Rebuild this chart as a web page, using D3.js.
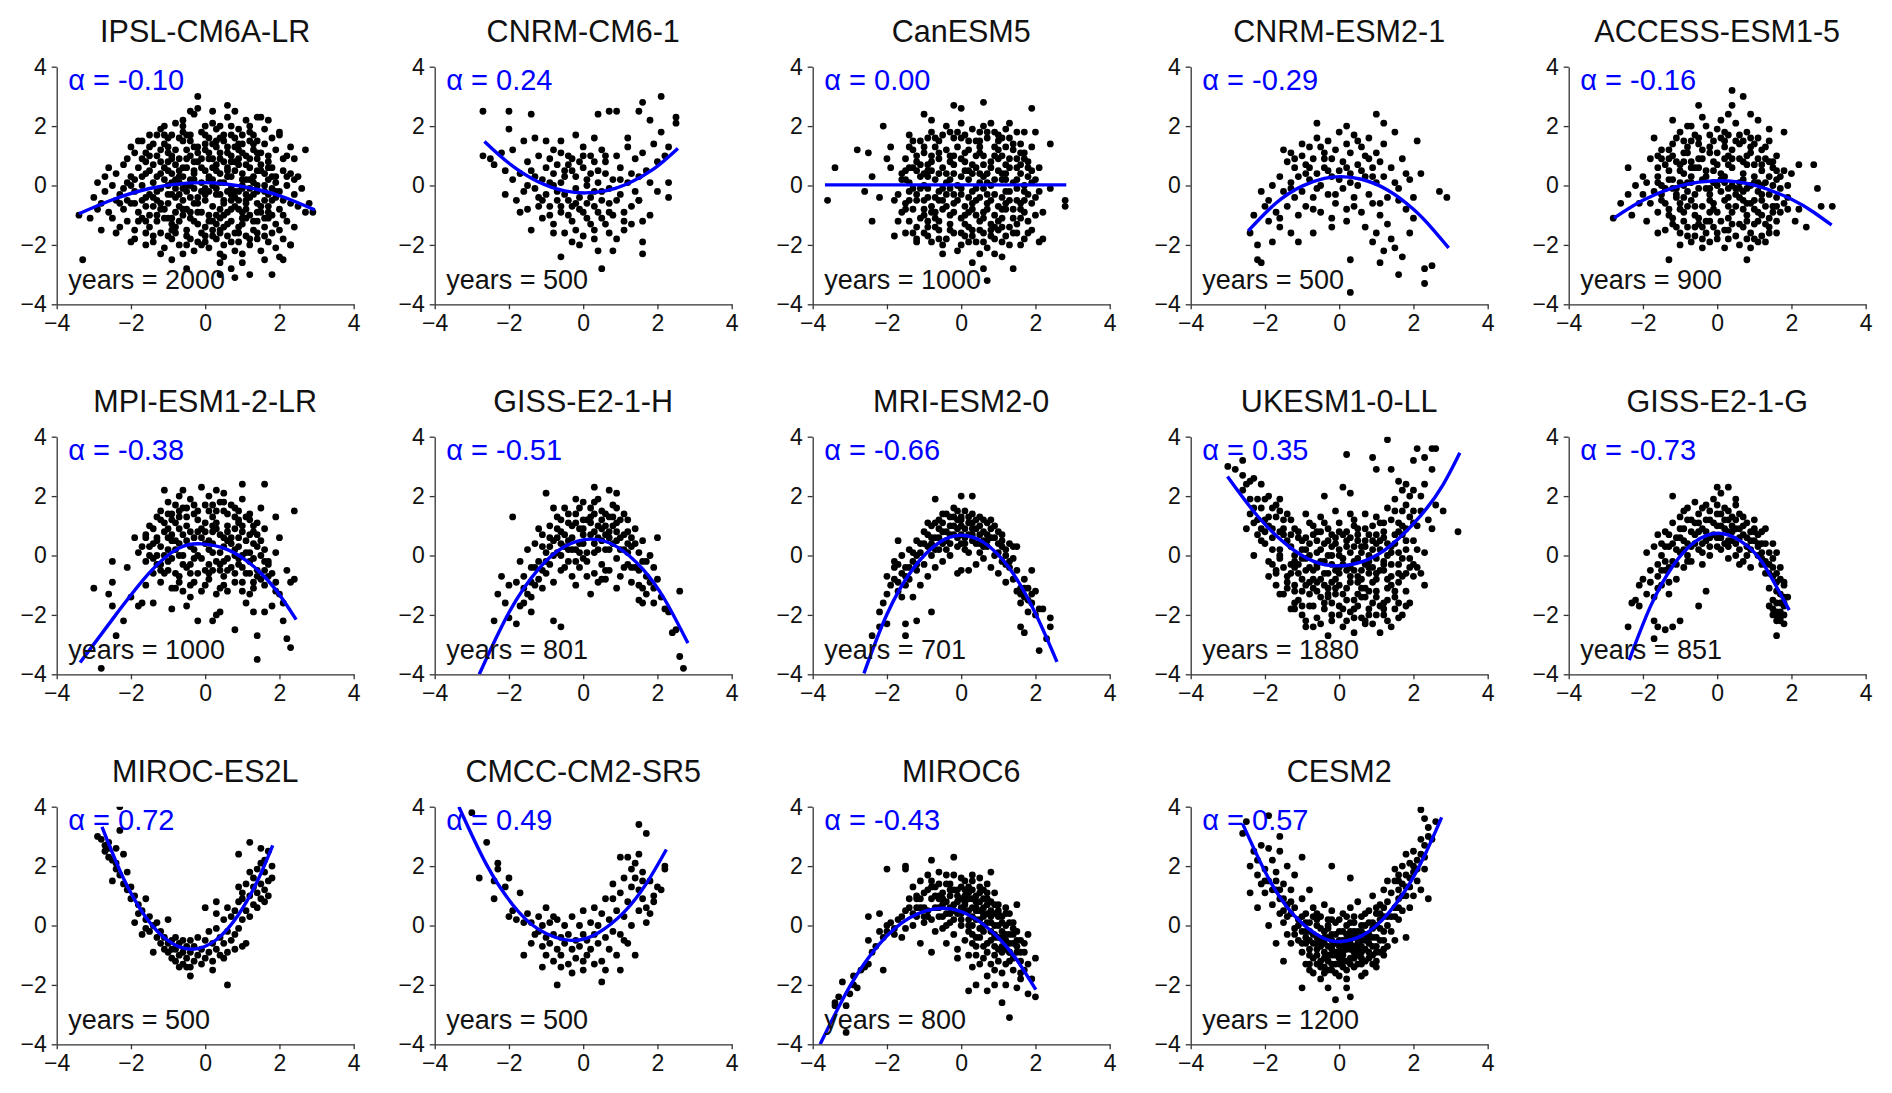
<!DOCTYPE html>
<html>
<head>
<meta charset="utf-8">
<script src="https://cdn.jsdelivr.net/npm/d3@7"></script>
<style>
  body { margin: 0; background: #fff; }
  svg { display: block; font-family: 'Liberation Sans', Arial, sans-serif; }
</style>
</head>
<body>
<svg id="chart" width="1892" height="1093"></svg>
<script>
const models = ['IPSL-CM6A-LR', 'CNRM-CM6-1', 'CanESM5', 'CNRM-ESM2-1', 'ACCESS-ESM1-5',
  'MPI-ESM1-2-LR', 'GISS-E2-1-H', 'MRI-ESM2-0', 'UKESM1-0-LL', 'GISS-E2-1-G',
  'MIROC-ES2L', 'CMCC-CM2-SR5', 'MIROC6', 'CESM2']
const alphas = ['-0.10', '0.24', '0.00', '-0.29', '-0.16', '-0.38', '-0.51', '-0.66', '0.35', '-0.73', '0.72', '0.49', '-0.43', '0.57']
const years = [2000, 500, 1000, 500, 900, 1000, 801, 701, 1880, 851, 500, 500, 800, 1200]
const ticks = [-4, -2, 0, 2, 4]

// blue fit lines ("x,y x,y ...")
const fitCurves = [
  '-3.4,-0.95 -2.5,-0.48 -1.5,-0.1 -0.5,0.08 0.5,0.06 1.5,-0.16 2.2,-0.43 2.95,-0.82',
  '-2.66,1.48 -2.0,0.75 -1.2,0.12 -0.5,-0.18 0.05,-0.25 0.6,-0.18 1.2,0.06 1.9,0.56 2.55,1.25',
  '-3.67,0.02 -1.0,0.02 1.0,0.02 2.83,0.02',
  '-2.45,-1.53 -1.7,-0.59 -1.0,-0.02 -0.4,0.24 0.05,0.3 0.6,0.21 1.3,-0.15 2.0,-0.8 2.5,-1.44 2.95,-2.1',
  '-2.78,-1.1 -2.0,-0.5 -1.0,-0.01 0.03,0.16 1.0,0.01 2.0,-0.46 2.6,-0.9 3.08,-1.33',
  '-3.37,-3.6 -2.5,-2.15 -1.5,-0.58 -0.7,0.25 -0.1,0.39 0.6,0.2 1.3,-0.36 1.9,-1.15 2.45,-2.16',
  '-2.8,-4.0 -2.0,-1.92 -1.2,-0.45 -0.5,0.3 0.2,0.55 0.9,0.3 1.6,-0.45 2.2,-1.49 2.82,-2.95',
  '-2.62,-3.97 -2.0,-1.98 -1.3,-0.45 -0.6,0.43 0.0,0.68 0.6,0.44 1.3,-0.43 2.0,-1.95 2.58,-3.58',
  '-3.01,2.66 -2.2,1.33 -1.4,0.35 -0.7,-0.19 -0.02,-0.35 0.7,-0.17 1.4,0.35 2.2,1.35 2.8,2.39 3.25,3.46',
  '-2.37,-3.52 -1.8,-1.72 -1.2,-0.36 -0.6,0.46 0.03,0.75 0.6,0.51 1.1,-0.04 1.5,-0.83 1.94,-1.84',
  '-2.78,3.32 -2.2,1.58 -1.6,0.28 -1.0,-0.51 -0.36,-0.8 0.3,-0.48 0.9,0.37 1.4,1.48 1.82,2.7',
  '-3.35,4.0 -2.6,2.04 -1.9,0.7 -1.2,-0.13 -0.33,-0.5 0.4,-0.25 1.1,0.45 1.7,1.41 2.24,2.56',
  '-3.8,-4.0 -3.0,-2.05 -2.2,-0.62 -1.4,0.25 -0.52,0.58 0.3,0.29 1.0,-0.41 1.5,-1.16 2.01,-2.16',
  '-2.6,3.42 -1.9,1.58 -1.2,0.32 -0.5,-0.38 0.02,-0.54 0.6,-0.35 1.2,0.24 1.8,1.22 2.3,2.36 2.76,3.64'
]

// scatter clouds ("x,y x,y ...")
const ptsIPSL = `-1.2,1.9 -0.8,2.1 -0.5,1.7 -0.3,2.4 -0.1,1.8 0.2,2.1 0.4,1.6 0.6,2.3 0.9,1.9 1.1,2.2 1.3,1.7 1.5,2.3 1.6,1.9 -1.0,1.6 0.0,2.0 0.7,1.7 1.8,1.6 -0.6,2.0 0.3,1.9 1.2,2.0 -1.5,1.7 0.8,2.5 -0.2,2.6 2.0,1.8 2.0,1.7
-1.9,1.1 -1.7,0.9 -1.5,1.3 -1.3,1.0 -1.1,1.4 -0.9,0.9 -0.8,1.2 -0.6,1.5 -0.4,1.0 -0.3,1.3 -0.1,0.9 0.0,1.4 0.1,1.1 0.3,1.3 0.4,0.9 0.5,1.5 0.6,1.1 0.8,1.3 0.9,0.9 1.0,1.4 1.1,1.0 1.3,1.2 1.4,0.9 1.6,1.4 1.7,1.0 1.9,1.2 2.1,0.9 -2.1,0.9 -1.2,1.2 -0.5,1.2 0.2,1.4 0.7,1.0 1.2,1.5 -1.6,1.1 -0.2,1.1 1.5,1.1 -1.0,1.1 0.9,1.2 -2.0,1.3 2.2,1.0
-2.4,0.4 -2.2,0.7 -2.0,0.3 -1.8,0.6 -1.6,0.4 -1.4,0.7 -1.3,0.3 -1.1,0.6 -0.9,0.4 -0.8,0.7 -0.6,0.3 -0.5,0.6 -0.3,0.4 -0.2,0.8 0.0,0.5 0.1,0.3 0.3,0.7 0.4,0.4 0.6,0.6 0.7,0.3 0.9,0.7 1.0,0.4 1.2,0.6 1.3,0.3 1.5,0.7 1.6,0.4 1.8,0.6 1.9,0.3 2.1,0.5 2.3,0.4 -1.9,0.2 -1.0,0.8 -0.4,0.2 0.5,0.8 1.1,0.2 1.7,0.8 2.4,0.2 -2.6,0.6 -0.7,0.5 0.2,0.6 0.8,0.5 1.4,0.5
-2.9,0.1 -2.7,-0.2 -2.5,0.0 -2.3,-0.3 -2.1,0.1 -1.9,-0.2 -1.7,0.0 -1.5,-0.3 -1.4,0.1 -1.2,-0.1 -1.0,0.0 -0.9,-0.3 -0.7,0.1 -0.5,-0.2 -0.4,0.0 -0.2,-0.4 -0.1,0.1 0.1,-0.2 0.2,0.0 0.4,-0.3 0.5,0.1 0.7,-0.1 0.8,-0.4 1.0,0.0 1.1,-0.3 1.3,0.1 1.4,-0.2 1.6,0.0 1.7,-0.3 1.9,0.1 2.0,-0.2 2.2,0.0 2.4,-0.3 2.6,-0.1 -1.6,-0.4 -0.8,-0.1 0.0,-0.1 0.6,-0.2 1.2,-0.1 1.8,-0.1 -2.2,-0.1 -0.3,0.2
-2.8,-0.6 -2.6,-0.9 -2.4,-0.5 -2.2,-0.8 -2.0,-0.6 -1.8,-0.9 -1.6,-0.7 -1.5,-1.0 -1.3,-0.5 -1.1,-0.8 -1.0,-0.6 -0.8,-0.9 -0.6,-0.5 -0.5,-0.8 -0.3,-0.6 -0.1,-0.9 0.0,-0.5 0.2,-0.7 0.3,-1.0 0.5,-0.6 0.6,-0.9 0.8,-0.7 0.9,-0.5 1.1,-0.8 1.2,-1.0 1.4,-0.6 1.5,-0.9 1.7,-0.7 1.8,-0.5 2.0,-0.8 2.1,-1.0 2.3,-0.6 2.5,-0.7 2.7,-0.9 -1.4,-0.7 -0.4,-0.9 0.4,-0.8 1.0,-0.9 1.6,-0.5 -2.1,-0.5 -0.7,-0.7 0.7,-0.5
-2.5,-1.1 -2.3,-1.4 -2.1,-1.2 -1.9,-1.5 -1.7,-1.1 -1.5,-1.4 -1.3,-1.2 -1.2,-1.6 -1.0,-1.1 -0.8,-1.4 -0.7,-1.2 -0.5,-1.5 -0.4,-1.1 -0.2,-1.3 -0.1,-1.6 0.1,-1.2 0.2,-1.5 0.4,-1.1 0.5,-1.4 0.7,-1.2 0.8,-1.6 1.0,-1.3 1.1,-1.1 1.3,-1.5 1.4,-1.2 1.6,-1.4 1.7,-1.1 1.9,-1.3 2.0,-1.5 2.2,-1.2 2.4,-1.4 -2.8,-1.5 -0.9,-1.3 0.0,-1.4 0.9,-1.4 1.8,-1.6 -1.6,-1.6 0.3,-1.3
-1.9,-1.8 -1.6,-2.0 -1.4,-1.7 -1.1,-2.1 -0.9,-1.8 -0.7,-2.0 -0.5,-1.7 -0.3,-2.2 -0.2,-1.9 0.0,-1.7 0.1,-2.1 0.3,-1.8 0.5,-2.0 0.6,-1.7 0.8,-2.2 0.9,-1.9 1.1,-1.7 1.2,-2.0 1.4,-1.8 1.5,-2.2 1.7,-1.9 1.9,-2.1 2.1,-1.8 2.3,-2.0 -1.2,-2.3 0.4,-2.3 1.0,-2.3 -0.6,-2.3
-3.3,-2.5 -3.4,-1.0 -3.1,-1.1 -3.0,-0.4 -2.9,-0.8 -2.7,0.3 -2.4,-1.6 -2.0,-1.9 -1.7,1.5 -1.3,1.7 -1.1,2.0 -0.9,-2.5 -0.5,-2.8 -0.4,2.5 -0.2,3.0 0.2,2.5 0.4,-2.6 0.4,-3.0 0.6,2.7 0.7,-2.8 0.8,-3.1 1.0,-2.6 1.2,-3.0 1.4,2.3 1.6,-2.5 1.8,-3.0 1.7,2.2 2.0,-2.4 2.1,-2.5 2.3,1.3 2.3,-2.0 2.5,0.3 2.7,1.2 2.9,-0.9 2.8,-0.6 2.4,0.9 -1.8,1.5 -0.6,2.2
-1.4,1.4 -1.0,1.3 -0.7,1.6 -0.4,1.7 0.1,1.6 0.5,1.7 0.8,1.6 1.2,1.8 -1.2,0.8 -0.7,0.9 -0.2,1.3 0.2,0.9 0.6,1.3 1.0,1.1 1.4,1.1 -1.5,0.5 -1.0,0.5 -0.6,0.6 -0.1,0.6 0.3,0.5 0.7,0.8 1.1,0.7 1.5,0.5 -1.3,-0.2 -0.8,0.2 -0.3,-0.1 0.1,0.2 0.6,0.3 0.9,-0.2 1.3,-0.3 1.7,0.2 -1.7,-0.5 -1.2,-0.6 -0.8,-0.4 -0.2,-0.6 0.3,-0.3 0.7,-0.8 1.1,-0.5 1.5,-0.7 1.9,-0.4 -1.8,-1.2 -1.3,-1.0 -0.9,-1.1 -0.3,-1.2 0.1,-1.0 0.6,-1.3 1.0,-1.1 1.4,-0.9 1.8,-1.0 -1.4,-1.9 -0.8,-1.6 -0.4,-1.8 0.2,-1.7 0.7,-1.9 1.2,-1.8 1.6,-1.7 -0.1,-2.0 0.5,-2.4 -1.6,0.8 -2.0,0.0 -2.3,-0.6 2.1,-0.5 2.2,0.3 -0.9,1.7 0.4,2.0 1.0,1.7 1.4,1.5 -0.5,0.0 0.0,-0.3 0.4,0.1 -0.6,-1.0 0.8,-0.2 -1.1,0.2 1.2,0.2 -0.3,0.8 0.4,-1.5 -0.9,-1.5 1.6,-1.1
-1.1,1.7 -0.6,1.8 0.0,1.7 0.7,2.0 1.3,1.4 -1.5,1.0 -0.9,1.0 -0.5,0.9 0.0,1.2 0.4,1.1 0.8,0.8 1.2,0.9 1.7,0.6 -1.7,0.3 -1.2,0.4 -0.7,0.3 -0.3,0.5 0.2,0.2 0.6,0.5 1.0,0.2 1.4,0.0 1.9,-0.2 -1.9,-0.6 -1.4,-0.4 -1.0,-0.3 -0.6,-0.1 -0.1,-0.2 0.3,-0.1 0.7,-0.3 1.2,-0.4 1.6,-0.2 -1.6,-1.2 -1.1,-1.1 -0.6,-0.8 -0.2,-0.9 0.2,-1.2 0.5,-1.0 0.9,-0.8 1.3,-1.2 1.7,-0.9 -1.0,-1.7 -0.5,-2.0 0.0,-1.9 0.4,-1.6 0.9,-1.6 1.4,-1.6 -0.7,-0.3 0.5,-0.5 1.1,-0.6 -0.4,1.5 0.3,1.5 0.9,1.4 -0.9,0.1 0.1,0.9 1.0,-0.1 -0.4,-0.4 -1.2,-0.8 1.8,0.3`

const ptsCNRM6 = `-2.7,2.5 -2.0,2.5 -1.4,2.4 -2.0,1.9 -2.7,1.0 -2.5,0.9 -2.4,0.7 -2.2,1.1 -2.1,0.5 -2.1,-0.3 -1.9,0.2 -1.8,-0.5 -1.9,1.2 -1.6,1.5 -1.5,0.8 -1.7,0.4 -1.6,-0.2 -1.5,-0.8 -1.4,-1.5 -1.3,1.6 -1.2,1.0 -1.3,0.3 -1.2,-0.4 -1.1,-1.1 -1.0,0.6 -1.0,1.5 -0.9,-0.7 -0.9,0.1 -0.8,1.2 -0.8,-1.3 -0.7,0.7 -0.7,-0.2 -0.6,1.5 -0.6,-0.9 -0.5,0.3 -0.5,-1.6 -0.4,1.0 -0.4,-0.5 -0.3,0.5 -0.3,-1.2 -0.2,1.7 -0.2,-0.1 -0.1,0.8 -0.1,-0.8 0.0,1.3 0.0,-1.7 0.1,0.2 0.1,-1.1 0.2,1.0 0.2,-0.4 0.3,1.6 0.3,-1.5 0.4,0.5 0.4,-0.9 0.5,1.2 0.5,-0.2 0.6,-1.3 0.6,0.8 0.7,-0.6 0.8,0.2 0.8,-1.0 0.9,1.0 0.9,-1.8 1.0,-0.3 1.0,0.6 1.1,-1.2 1.2,0.1 1.2,1.3 1.3,-0.7 1.3,-1.3 1.4,0.9 1.5,-0.5 1.5,0.3 1.6,1.1 1.6,-1.2 1.7,0.5 1.8,0.1 1.8,-1.0 1.9,1.4 2.0,0.8 2.0,-0.2 2.1,1.8 2.2,1.0 2.3,1.3 2.3,0.1 2.1,3.0 1.6,2.8 1.5,2.5 0.9,2.5 0.7,2.5 0.4,2.4 1.8,2.2 2.5,2.3 2.5,2.1 2.3,-0.4 1.5,-0.5 -0.6,-2.4 0.5,-2.8 0.4,-2.2 0.8,-2.2 1.6,-2.3 1.6,-1.9 1.2,1.6 -0.1,-2.0 0.3,-1.8 -0.3,-1.9 1.1,-1.5
-1.4,0.5 -1.1,0.2 -0.8,0.4 -0.6,0.1 -0.4,0.7 -0.2,0.3 0.0,0.6 0.2,0.4 0.4,0.1 -1.3,-0.1 -1.0,-0.3 -0.7,-0.5 -0.5,-0.3 -0.3,-0.7 -0.1,-0.4 0.1,-0.6 0.3,-0.2 0.5,-0.5 0.7,-0.1 -1.2,-0.7 -0.9,-1.0 -0.6,-0.7 -0.4,-1.0 -0.2,-0.6 0.0,-0.9 0.3,-0.7 0.5,-1.1 0.7,-0.9 0.9,-0.5 -0.9,0.9 -0.6,1.1 -0.3,0.9 0.0,1.0 0.3,0.8 0.6,1.0 -0.8,-1.6 -0.2,-1.5 0.2,-1.3 0.7,-1.6 1.1,-0.9 1.3,0.4 1.0,0.2 -1.5,0.0 -1.7,-0.9 -1.1,-0.5 -0.8,0.0 -0.5,0.5 0.1,0.0 0.6,0.4 1.4,-0.2`

const ptsCanESM5 = `-3.6,-0.5 -3.4,0.6 -2.8,1.2 -2.5,1.1 -2.4,0.3 -2.1,2.0 -2.4,-1.2 -1.8,-1.7 -2.2,-0.4 -2.6,-0.2 -2.0,0.9 -1.9,1.3 -1.7,-1.2 0.6,-2.8 0.7,-3.2 1.4,-2.8 1.9,2.6 0.6,2.8 -0.2,2.7 0.0,2.6 2.0,1.8 2.4,1.4 2.4,-0.1 2.8,-0.5 2.8,-0.7 2.2,-0.9 2.2,-1.8 2.1,-1.9 -1.0,2.4 -0.8,2.2 0.3,-2.6 -0.5,-2.3 1.1,-2.4 1.6,-2.0 1.8,-1.6 1.7,1.8 1.3,2.1 -1.4,1.7 -1.6,0.2 -1.2,-1.9
-1.1,1.5 -0.8,1.8 -0.6,1.5 -0.4,2.0 -0.2,1.6 0.0,2.1 0.1,1.7 0.3,1.9 0.4,1.5 0.6,2.0 0.7,1.6 0.9,1.8 1.0,1.5 1.2,1.9 1.3,1.6 1.5,1.8 1.6,1.4 -0.3,1.8 0.5,1.8 1.1,1.6 -0.9,1.6 0.2,1.5 0.8,2.1
-1.5,0.9 -1.3,1.2 -1.2,0.8 -1.0,1.1 -0.9,0.7 -0.7,1.3 -0.6,0.9 -0.4,1.2 -0.3,0.8 -0.1,1.3 0.0,0.9 0.2,1.2 0.3,0.7 0.5,1.3 0.6,1.0 0.8,0.8 0.9,1.3 1.1,1.0 1.2,0.7 1.4,1.2 1.5,0.9 1.7,1.1 1.8,0.8 1.9,1.3 -0.8,1.0 0.4,1.0 1.0,1.2 1.6,0.7 -0.2,1.0 -1.4,1.3
-1.6,0.4 -1.4,0.1 -1.3,0.6 -1.1,0.3 -1.0,0.0 -0.8,0.5 -0.7,0.2 -0.5,0.6 -0.4,0.1 -0.2,0.4 -0.1,0.0 0.1,0.5 0.2,0.2 0.4,0.6 0.5,0.1 0.7,0.4 0.8,0.0 1.0,0.5 1.1,0.2 1.3,0.6 1.4,0.1 1.6,0.4 1.7,0.0 1.9,0.5 2.0,0.2 -0.9,0.3 0.0,0.3 0.6,0.3 1.2,0.4 1.8,0.3 -1.2,0.5
-1.7,-0.3 -1.5,-0.6 -1.4,-0.2 -1.2,-0.5 -1.1,-0.1 -0.9,-0.4 -0.8,-0.7 -0.6,-0.2 -0.5,-0.5 -0.3,-0.1 -0.2,-0.6 0.0,-0.3 0.1,-0.7 0.3,-0.2 0.4,-0.5 0.6,-0.1 0.7,-0.6 0.9,-0.3 1.0,-0.7 1.2,-0.2 1.3,-0.5 1.5,-0.1 1.6,-0.6 1.8,-0.3 1.9,-0.6 2.1,-0.2 -0.4,-0.3 0.5,-0.4 1.1,-0.4 -1.0,-0.5
-1.6,-0.9 -1.4,-1.2 -1.3,-0.8 -1.1,-1.1 -0.9,-1.4 -0.8,-0.9 -0.6,-1.2 -0.5,-0.8 -0.3,-1.3 -0.2,-0.9 0.0,-1.1 0.2,-1.4 0.3,-0.8 0.5,-1.2 0.6,-0.9 0.8,-1.3 0.9,-1.0 1.1,-1.4 1.2,-0.8 1.4,-1.1 1.5,-1.3 1.7,-0.9 1.8,-1.2 2.0,-1.0 -0.7,-1.1 0.4,-1.0 1.0,-1.2
-1.5,-1.6 -1.2,-1.8 -1.0,-1.6 -0.8,-1.9 -0.6,-1.5 -0.4,-1.8 -0.2,-1.6 0.0,-2.0 0.1,-1.7 0.3,-1.5 0.4,-1.9 0.6,-1.6 0.7,-2.1 0.9,-1.8 1.0,-1.5 1.2,-1.7 1.3,-2.0 1.5,-1.6 1.7,-1.8 -0.1,-2.2 0.5,-2.3 0.9,-2.3 1.9,-1.5
-1.0,1.3 -0.5,1.7 0.0,1.6 0.5,1.5 1.0,1.7 1.4,1.4 -1.2,1.0 -0.8,0.8 -0.3,1.0 0.1,1.1 0.6,0.7 1.0,0.9 1.3,0.9 1.7,0.9 -1.4,0.6 -1.0,0.4 -0.6,0.4 -0.2,0.7 0.3,0.4 0.8,0.6 1.2,0.2 1.5,0.6 -1.3,-0.1 -0.9,-0.1 -0.5,-0.1 0.0,-0.1 0.4,-0.1 0.9,0.2 1.3,-0.2 1.7,-0.2 -1.4,-0.5 -1.0,-0.8 -0.6,-0.5 -0.1,-0.5 0.3,-0.6 0.7,-0.3 1.1,-0.8 1.5,-0.5 -1.2,-1.4 -0.7,-1.4 -0.3,-1.0 0.1,-1.3 0.5,-1.5 0.9,-1.4 1.3,-1.4 1.6,-1.1 -0.5,-2.0 0.2,-1.9 0.8,-1.7 -0.9,-1.2 0.6,-1.1 -0.4,0.4 0.5,0.4 1.4,-0.8 -0.7,-0.9 0.2,-0.9 1.9,0.1 -1.5,0.2
-1.3,1.5 -0.7,1.6 -0.1,1.8 0.7,1.8 1.2,1.3 -1.1,0.7 -0.6,1.1 0.1,0.8 0.5,1.1 0.9,1.0 1.6,1.1 -1.5,0.5 -0.9,0.5 -0.3,0.2 0.2,0.5 0.7,0.1 1.1,0.4 1.5,0.2 1.8,0.6 -1.2,-0.3 -0.7,-0.4 -0.2,-0.3 0.2,-0.4 0.8,-0.5 1.2,-0.6 1.7,-0.5 -1.5,-0.8 -1.0,-1.0 -0.4,-0.7 0.1,-1.0 0.7,-0.8 1.1,-1.1 1.6,-0.8 -1.3,-1.6 -0.9,-1.7 -0.3,-1.5 0.3,-1.7 0.8,-1.5 1.4,-1.6 -0.6,-1.8 0.0,-1.6 0.6,-1.9 1.1,-1.9 -1.9,0.6 -1.8,-0.5 2.0,-0.4 2.1,0.6`

const ptsCNRMESM = `-2.4,-1.6 -2.2,-2.0 -2.2,-2.5 -2.1,-2.6 -2.1,-0.2 -1.9,-1.2 -2.0,-0.7 -2.3,-1.0 -1.8,-1.9 -1.6,-1.4 -0.6,2.1 0.2,2.0 1.0,2.4 1.2,2.1 1.5,1.8 2.1,1.5 2.2,0.4 2.7,-0.2 2.9,-0.4 1.7,-2.4 1.6,-3.0 2.3,-2.8 2.5,-2.7 2.3,-3.3 0.3,-3.6 0.3,-2.5 1.1,-2.6 1.2,-2.2 0.9,-1.9 1.5,-2.1 1.4,-1.8 1.9,-1.6 1.8,-0.8 1.6,-0.5 2.0,-1.1 1.3,-1.3 -1.1,-1.9 -1.3,-1.6 -0.7,-1.6 -0.2,-1.4
-1.6,0.3 -1.5,-0.2 -1.4,0.8 -1.4,-0.7 -1.3,0.1 -1.3,1.1 -1.2,-0.4 -1.2,0.6 -1.1,-1.0 -1.1,0.3 -1.0,1.0 -1.0,-0.2 -0.9,0.7 -0.9,-0.7 -0.8,1.3 -0.8,0.2 -0.7,-0.4 -0.7,0.9 -0.6,1.6 -0.6,0.4 -0.5,-0.9 -0.5,0.0 -0.4,1.1 -0.4,0.6 -0.3,-0.3 -0.3,1.5 -0.2,0.3 -0.2,0.9 -0.1,-0.6 -0.1,1.2 0.0,0.5 0.0,1.8 0.1,-0.1 0.1,0.8 0.2,1.4 0.2,-0.8 0.3,0.4 0.3,1.1 0.4,-0.4 0.4,1.7 0.5,0.7 0.5,0.0 0.6,1.3 0.6,-0.9 0.7,0.3 0.7,1.0 0.8,-0.3 0.8,1.6 0.9,0.6 0.9,-0.6 1.0,1.1 1.0,0.1 1.1,-1.0 1.1,0.8 1.2,0.3 1.2,1.4 1.3,-0.4 1.4,0.6 1.5,0.1 1.6,-0.1 1.7,0.9 1.8,0.4 1.9,0.2 2.0,-0.4 -1.5,1.2 -1.7,-0.9 -1.8,0.0 -1.9,-0.5 -1.6,-1.1 -1.0,1.4 -0.5,1.3 0.5,1.5 -0.2,-1.1 0.2,-1.2 0.7,-1.4 1.0,-1.6 -0.9,0.4 -0.6,-0.1 -0.3,0.5 0.0,0.2 0.3,0.1 0.6,0.5 0.9,0.3 -1.2,0.9 -0.8,0.6 -0.4,0.9 0.2,0.6 0.8,0.9 -0.7,-0.8 -0.1,-0.3 0.4,-0.7 1.1,-0.6 -1.3,-0.1`

const ptsACCESS = `-2.8,-1.1 -2.4,-0.3 -2.6,-0.6 -2.3,-1.0 -2.2,0.0 -2.1,-0.6 -2.0,0.3 -1.9,-1.2 -1.8,0.9 -1.7,1.6 -1.6,-1.6 -1.3,-2.5 -1.2,2.2 -0.5,2.7 0.4,2.7 0.7,3.0 0.4,3.2 -0.4,-2.1 0.8,-2.5 0.9,-2.1 0.2,-2.1 1.4,1.9 1.8,1.8 2.2,0.7 2.6,0.7 2.7,-0.1 2.8,-0.7 3.1,-0.7 2.4,-1.4 2.1,-1.2 1.6,-1.6 1.9,-0.4 2.2,-0.8 2.0,0.4 -1.0,-2.0 -0.7,-1.9 1.3,-1.9 1.1,2.2 0.9,2.4 -0.8,2.0 -1.5,1.2 -2.4,0.6
-1.2,1.4 -1.0,1.8 -0.8,1.3 -0.6,1.7 -0.4,1.2 -0.3,2.0 -0.1,1.5 0.0,1.9 0.2,1.3 0.3,1.7 0.5,2.1 0.6,1.4 0.8,1.8 0.9,1.3 1.1,1.6 1.2,1.2 1.4,1.5 -0.9,1.5 0.1,1.6 0.7,1.5 -0.5,1.4 0.4,1.2
-1.6,0.6 -1.5,0.9 -1.3,0.5 -1.2,1.0 -1.0,0.7 -0.9,0.4 -0.8,1.1 -0.6,0.6 -0.5,0.9 -0.3,0.5 -0.2,1.1 0.0,0.7 0.1,0.4 0.3,1.0 0.4,0.6 0.6,0.9 0.7,0.4 0.9,1.1 1.0,0.7 1.2,0.5 1.3,0.9 1.5,0.6 1.6,1.0 1.8,0.5 -1.1,0.8 -0.1,0.8 0.8,0.7 1.4,0.8 -0.7,0.8 0.2,0.9
-1.9,0.1 -1.7,-0.2 -1.6,0.3 -1.4,-0.1 -1.3,0.2 -1.1,-0.3 -1.0,0.1 -0.8,-0.2 -0.7,0.3 -0.5,-0.1 -0.4,0.2 -0.2,-0.3 -0.1,0.1 0.1,-0.2 0.2,0.3 0.4,0.0 0.5,-0.3 0.7,0.2 0.8,-0.1 1.0,0.3 1.1,-0.2 1.3,0.1 1.4,-0.3 1.6,0.2 1.7,-0.1 1.9,0.0 -0.9,0.0 0.0,0.0 0.9,0.0 -1.5,0.0 0.3,-0.1 1.2,0.0
-1.8,-0.6 -1.6,-0.9 -1.5,-0.5 -1.3,-0.8 -1.2,-1.1 -1.0,-0.6 -0.9,-0.9 -0.7,-0.5 -0.6,-1.0 -0.4,-0.7 -0.3,-1.2 -0.1,-0.6 0.0,-0.9 0.2,-0.5 0.3,-1.1 0.5,-0.7 0.6,-0.4 0.8,-1.0 0.9,-0.6 1.1,-0.9 1.2,-0.5 1.4,-1.1 1.5,-0.7 1.7,-0.9 1.8,-0.6 -1.1,-0.4 -0.2,-0.9 0.7,-0.8 1.3,-0.7
-1.4,-1.5 -1.2,-1.3 -1.0,-1.6 -0.8,-1.4 -0.6,-1.7 -0.5,-1.3 -0.3,-1.6 -0.1,-1.4 0.0,-1.8 0.2,-1.5 0.4,-1.3 0.5,-1.7 0.7,-1.4 0.9,-1.6 1.0,-1.3 1.2,-1.7 1.4,-1.4 1.6,-1.2 -0.2,-1.9 0.6,-2.0 1.1,-1.9
-1.3,1.2 -0.9,1.1 -0.5,1.6 -0.2,1.3 0.2,1.8 0.5,1.5 0.9,1.6 1.3,1.3 -1.4,0.7 -1.0,0.5 -0.7,0.6 -0.4,0.9 0.0,1.1 0.3,0.7 0.7,0.8 1.1,0.9 1.5,0.8 -1.2,0.2 -0.8,0.1 -0.3,0.3 0.1,0.2 0.6,0.1 1.0,0.1 1.4,0.3 -1.5,-0.3 -1.1,-0.1 -0.6,-0.3 -0.2,-0.1 0.3,-0.4 0.7,-0.2 1.2,-0.3 1.6,-0.4 -1.3,-1.0 -0.8,-0.7 -0.5,-1.1 -0.1,-0.8 0.4,-0.9 0.8,-0.6 1.2,-1.0 1.6,-0.7 -1.1,-1.4 -0.6,-1.4 -0.2,-1.2 0.3,-1.5 0.8,-1.2 1.3,-1.3 -0.4,-1.8 0.3,-1.8 1.0,-1.8 -1.6,1.0 1.7,0.3 -0.7,2.0 0.1,2.2 -0.9,-0.4 0.5,-0.1 1.0,-0.5
-1.1,1.6 -0.7,1.5 -0.2,1.7 0.2,1.5 0.6,1.7 1.0,1.4 -1.3,0.9 -0.9,0.8 -0.5,0.6 -0.1,0.5 0.4,0.9 0.8,1.0 1.2,0.7 1.6,0.5 -1.6,0.1 -1.2,-0.1 -0.7,0.1 -0.3,-0.1 0.2,0.1 0.6,-0.1 1.1,0.1 1.5,0.0 -1.4,-0.6 -1.0,-0.8 -0.6,-0.7 -0.2,-0.5 0.3,-0.7 0.7,-0.5 1.0,-0.8 1.5,-0.9 -0.9,-1.2 -0.4,-1.4 0.1,-1.2 0.6,-1.3 1.1,-1.2 1.4,-1.6 -0.8,-1.7 0.0,-1.6 0.8,-1.8 -2.0,-0.3 1.9,-0.8 -0.4,2.3 0.3,2.4`

const ptsMPI = `-3.0,-1.1 -2.6,-1.3 -2.5,-0.2 -2.5,-0.9 -2.5,-1.7 -2.2,-2.2 -2.4,-2.7 -2.8,-3.8 -1.9,0.6 -2.1,-0.4 -2.0,-1.4 -1.8,-1.7 -1.7,-1.6 -1.1,2.2 -0.9,-1.8 -0.5,-1.7 -0.2,-2.2 0.2,-2.2 0.3,-2.0 0.4,-1.9 0.8,-2.5 1.4,-3.5 1.4,-2.7 1.0,2.4 1.6,2.4 1.5,1.6 1.9,1.3 2.4,1.5 2.0,0.6 2.3,-0.9 2.4,-0.8 2.2,-2.8 2.3,-3.1 2.1,-2.2 1.8,-1.7 1.6,-1.9 1.9,-1.2 2.2,-0.5 1.7,-0.3 1.3,-1.9 1.1,-1.6 -1.4,-1.6 -1.6,0.6 -1.7,0.3
-1.2,1.5 -1.0,1.8 -0.9,1.4 -0.7,2.0 -0.6,1.6 -0.4,1.9 -0.3,1.4 -0.1,2.3 0.0,1.7 0.1,2.0 0.3,1.5 0.4,1.8 0.6,1.4 0.7,1.7 0.9,1.5 1.0,1.9 -0.5,1.3 0.2,1.3 0.8,1.3 -0.8,1.7 0.5,2.1 1.2,1.4
-1.6,0.7 -1.5,1.0 -1.3,0.6 -1.2,1.2 -1.1,0.8 -0.9,0.5 -0.8,1.1 -0.6,0.7 -0.5,1.0 -0.3,0.6 -0.2,1.2 0.0,0.8 0.1,0.5 0.3,1.1 0.4,0.7 0.6,1.0 0.7,0.6 0.9,1.2 1.0,0.8 1.1,0.5 1.3,1.0 1.4,0.7 1.6,0.9 -1.0,0.9 -0.1,0.9 0.8,0.9 -0.7,1.3 0.2,0.8 1.2,1.2 -1.4,0.4
-1.8,0.1 -1.6,-0.2 -1.5,0.3 -1.3,0.0 -1.2,-0.3 -1.0,0.2 -0.9,-0.1 -0.7,0.4 -0.6,0.0 -0.4,-0.3 -0.3,0.2 -0.1,-0.1 0.0,0.4 0.2,0.1 0.3,-0.2 0.5,0.3 0.6,-0.1 0.8,0.2 0.9,-0.3 1.1,0.1 1.2,-0.2 1.4,0.3 1.5,0.0 1.7,-0.2 -0.8,0.2 0.4,0.1 1.0,0.0 -1.4,-0.1 0.7,0.4 1.9,0.1
-1.4,-0.6 -1.2,-0.9 -1.0,-0.5 -0.9,-1.1 -0.7,-0.7 -0.5,-0.4 -0.4,-1.0 -0.2,-0.6 -0.1,-1.2 0.1,-0.8 0.2,-0.5 0.4,-1.1 0.5,-0.7 0.7,-0.4 0.8,-0.9 1.0,-1.2 1.1,-0.6 1.3,-0.9 1.4,-0.5 1.6,-1.0 1.7,-0.7 1.9,-0.9 2.0,-1.3 -0.6,-1.2 0.3,-1.3 1.2,-1.3 -1.6,-1.0 2.1,-1.6
-1.3,1.3 -0.9,1.2 -0.5,1.6 -0.2,1.5 0.2,1.7 0.5,1.5 0.8,1.6 1.1,1.3 -1.4,0.9 -1.0,0.6 -0.7,0.9 -0.4,0.8 0.0,1.1 0.3,0.9 0.6,0.8 1.0,1.0 1.3,0.8 -1.2,0.3 -0.8,0.5 -0.4,0.3 -0.1,0.6 0.2,0.4 0.6,0.5 0.9,0.3 1.3,0.4 1.6,0.2 -1.3,-0.3 -1.0,-0.2 -0.6,-0.3 -0.2,0.0 0.1,-0.3 0.5,-0.2 0.9,-0.1 1.3,-0.1 1.6,-0.5 -1.1,-0.6 -0.7,-0.9 -0.3,-0.9 0.0,-0.5 0.4,-0.5 0.8,-0.6 1.2,-0.6 1.5,-0.8 -0.4,-1.4 0.5,-1.0 1.0,-0.9 -0.6,2.2 0.3,2.2 -1.0,1.4 1.4,1.1
-1.1,1.1 -0.7,1.5 -0.3,1.7 0.1,1.5 0.5,1.8 0.9,1.1 -1.3,0.5 -0.9,0.7 -0.5,0.5 -0.2,0.8 0.2,1.0 0.5,0.6 0.9,0.6 1.2,0.7 1.5,0.5 -1.5,0.0 -1.1,0.0 -0.7,0.0 -0.3,-0.1 0.1,0.2 0.4,-0.3 0.8,0.0 1.2,0.1 1.6,-0.2 -1.2,-0.5 -0.8,-0.6 -0.4,-0.6 0.1,-0.6 0.6,-0.5 1.0,-0.4 1.4,-0.7 1.8,-0.6 -0.8,-1.1 0.0,-1.0 0.6,-1.2 1.3,-1.1`

const ptsGISSH = `-1.9,1.3 -2.3,-1.3 -2.0,-2.1 -2.4,-2.2 -1.8,-2.3 -2.1,-1.6 -2.0,-1.0 -1.7,-1.7 -1.6,-1.1 -1.0,2.1 0.3,2.3 0.9,2.1 0.7,2.2 2.0,0.6 2.6,-1.2 2.3,-1.9 2.5,-2.5 2.6,-3.4 2.7,-3.8 2.4,-2.6 2.2,-1.8 2.1,-1.4 1.9,-1.1 -0.8,-2.2 -0.6,-2.4 0.2,-1.3 0.5,-0.8 1.5,-1.5 -1.4,-1.4 -1.2,-0.8 -2.2,-0.7
-1.6,-0.7 -1.5,-1.3 -1.5,0.2 -1.4,-0.4 -1.3,-1.0 -1.3,0.4 -1.2,-0.2 -1.1,-1.1 -1.1,0.7 -1.0,0.1 -1.0,-0.6 -0.9,1.0 -0.9,-0.3 -0.8,0.5 -0.8,-0.9 -0.7,1.3 -0.7,0.1 -0.6,-0.5 -0.6,0.8 -0.5,1.6 -0.5,0.3 -0.4,-0.2 -0.4,1.1 -0.3,0.6 -0.3,-0.7 -0.2,1.4 -0.2,0.2 -0.1,0.9 -0.1,-0.4 0.0,1.8 0.0,0.4 0.1,1.2 0.1,-0.2 0.2,0.7 0.2,1.6 0.3,0.1 0.3,-0.6 0.4,1.0 0.4,1.9 0.5,0.5 0.5,-0.3 0.6,1.4 0.6,0.2 0.7,0.8 0.7,-0.5 0.8,1.7 0.8,0.4 0.9,-0.1 0.9,1.1 1.0,0.6 1.0,-0.7 1.1,0.2 1.1,1.4 1.2,-0.3 1.2,0.8 1.3,0.3 1.3,-0.9 1.4,0.9 1.4,-0.4 1.5,0.1 1.5,-1.0 1.6,-0.2 1.6,0.5 1.7,-0.7 1.7,-1.3 1.8,0.0 1.8,-0.9 1.9,-0.4
-1.2,0.9 -0.9,0.3 -0.6,0.4 -0.3,1.0 0.0,0.9 0.3,0.8 0.6,0.7 0.9,0.5 1.2,0.4 -1.0,-0.2 -0.7,0.6 -0.4,0.5 -0.1,0.4 0.2,1.1 0.5,1.2 0.8,1.0 1.1,-0.4 -0.5,-0.4 0.1,-0.7 0.6,-0.8 -0.8,1.6 -0.2,1.9 0.3,1.4 0.7,1.3 1.2,1.2 -1.6,-1.6 -1.4,-1.9 -1.8,-0.9 -1.7,-0.2 -0.2,-1.0 0.4,-0.9 0.9,-1.1 1.6,-1.6 1.9,-1.6 2.0,-0.8 1.4,0.4 -1.1,-0.5 -0.6,1.2 0.0,-0.1 0.5,0.9
-0.9,0.6 -0.7,0.9 -0.5,0.7 -0.4,1.4 -0.3,0.2 -0.2,1.1 -0.1,1.6 0.0,0.7 0.1,0.1 0.2,1.3 0.3,1.8 0.4,0.6 0.5,1.5 0.6,1.0 0.7,0.2 0.8,1.3 0.9,0.8 1.0,1.2 1.1,0.7 1.2,0.1 1.3,0.6 -0.6,0.0 -0.2,-0.2 0.3,0.4 0.7,0.6 1.0,0.2 -1.1,0.3 -0.8,0.0 1.5,-0.5 1.7,-0.2 1.3,-0.4 -1.3,-0.4 -1.4,-0.9 0.0,1.2 -0.4,0.2 0.6,-0.5 0.9,1.6 -0.1,0.1 0.4,0.2 1.6,-1.1`

const ptsMRI = `-2.2,-1.9 -2.4,-2.7 -2.2,-2.4 -2.0,-2.3 -1.5,-2.7 -1.5,-2.3 -1.2,-2.2 -0.8,-1.9 -1.7,0.5 -2.0,-0.7 -2.0,-1.3 2.0,-1.2 2.1,-1.8 2.2,-1.8 2.4,-2.1 2.4,-2.4 2.1,-3.2 2.3,-2.8 1.6,-2.4 1.7,-2.6 1.9,-0.5 1.5,0.3 -0.7,1.9 0.0,2.0 0.3,2.0 -2.1,-1.6 -1.9,-1.0 -1.8,-0.4
-1.8,-0.8 -1.7,-0.3 -1.7,-1.2 -1.6,-0.6 -1.6,0.0 -1.5,-1.0 -1.5,-0.4 -1.4,0.2 -1.4,-0.8 -1.3,-0.2 -1.3,-1.4 -1.2,0.5 -1.2,-0.5 -1.1,0.1 -1.1,-1.0 -1.0,0.8 -1.0,-0.3 -0.9,0.3 -0.9,-0.7 -0.8,1.0 -0.8,0.0 -0.7,0.6 -0.7,-0.4 -0.6,1.2 -0.6,0.2 -0.5,0.8 -0.5,-0.2 -0.4,1.4 -0.4,0.5 -0.3,1.0 -0.3,0.0 -0.2,1.6 -0.2,0.7 -0.1,1.2 -0.1,0.3 0.0,1.0 0.0,-0.5 0.1,1.5 0.1,0.6 0.2,1.1 0.2,0.1 0.3,1.4 0.3,0.5 0.4,0.9 0.4,-0.3 0.5,1.3 0.5,0.4 0.6,0.8 0.6,-0.1 0.7,1.1 0.7,0.3 0.8,0.6 0.8,-0.4 0.9,1.0 0.9,0.0 1.0,0.4 1.0,-0.6 1.1,0.7 1.1,-0.2 1.2,0.2 1.2,-0.9 1.3,-0.4 1.3,0.4 1.4,-0.1 1.4,-0.8 1.5,-0.5 1.6,-1.1 1.6,-1.6 1.7,-0.8 1.7,-1.4 1.8,-1.9 1.8,-1.1 1.9,-1.6 2.0,-2.0
-0.9,1.1 -0.5,1.1 -0.1,0.9 0.3,0.9 0.7,0.7 1.1,0.3 -0.3,0.4 0.2,0.7 -0.7,0.2 0.6,0.5 -0.2,1.3 0.4,1.2 0.8,1.2 -0.6,0.9 0.0,0.7 1.0,0.8 -1.2,0.0 -1.4,-0.4 1.2,-0.3 1.4,0.3 -1.0,0.4 -0.4,0.2 0.1,0.4 0.5,0.1 -0.8,0.6 -1.6,-1.4 -1.8,-0.2 1.5,-1.2 1.9,-1.3 0.0,1.3 -0.1,-0.6 0.2,-0.5
-0.9,0.7 -0.8,0.4 -0.7,1.1 -0.6,0.6 -0.5,1.4 -0.4,0.8 -0.3,1.3 -0.3,0.7 -0.2,1.0 -0.1,0.6 -0.1,1.5 0.0,1.2 0.1,0.9 0.1,0.2 0.2,1.3 0.3,0.7 0.3,1.1 0.4,0.4 0.5,1.0 0.6,0.3 0.6,1.2 0.7,0.5 0.8,0.9 0.9,0.6 1.0,0.1 1.1,0.5 1.2,0.0 -1.1,0.4 -1.2,-0.3 -1.3,0.1 0.0,0.4 -0.5,0.4 0.5,0.7 1.3,-0.2 -1.5,-0.7 -1.7,-0.9 1.6,-1.3 1.7,-1.1 1.8,-1.5`

const ptsUKESM = `-3.0,3.0 -2.8,2.9 -2.6,3.2 -2.6,2.7 -2.5,2.4 -2.3,0.0 -2.5,0.9 -2.3,2.6 -2.1,2.4 -1.9,-0.7 0.2,3.4 1.3,3.9 0.9,3.3 2.1,3.6 2.5,3.6 2.6,3.6 2.5,2.9 2.3,3.3 2.0,3.2 2.6,1.7 2.8,1.5 3.2,0.8 2.3,-1.0 1.1,-2.6 1.6,-2.1 -0.3,-2.7 -0.7,-2.4 -1.2,-1.8 2.3,0.1 0.1,2.3 -0.4,2.0 0.3,2.1 1.0,2.9 1.4,2.9 2.0,2.2 2.2,2.0 1.8,2.4 -2.4,1.4 -2.2,1.9 -2.0,1.2 -1.8,1.6 -1.6,1.9 -1.4,1.4 -2.2,0.7 -0.9,-2.4 0.4,-2.6 0.7,-2.3 1.4,-2.4 1.9,-1.6 2.2,-0.6 2.5,0.9 2.2,1.5
-1.9,1.0 -1.7,1.3 -1.5,0.9 -1.3,1.2 -1.1,0.8 -0.9,1.4 -0.7,1.0 -0.5,1.3 -0.3,0.9 -0.1,1.5 0.0,1.1 0.2,0.8 0.4,1.2 0.5,0.9 0.7,1.4 0.9,1.0 1.0,1.3 1.2,0.8 1.4,1.2 1.5,1.5 1.7,1.0 1.9,1.3 -0.6,0.8 0.3,1.4 1.1,1.1 1.6,0.8
-2.0,0.4 -1.8,0.6 -1.6,0.2 -1.5,0.7 -1.3,0.3 -1.2,0.0 -1.0,0.5 -0.9,0.2 -0.7,0.7 -0.6,0.1 -0.4,0.4 -0.3,0.0 -0.1,0.6 0.0,0.2 0.2,0.5 0.3,0.1 0.5,0.7 0.6,0.3 0.8,0.0 0.9,0.5 1.1,0.2 1.2,0.6 1.4,0.1 1.5,0.4 1.7,0.7 1.8,0.2 2.0,0.5 -1.1,0.6 -0.2,0.3 0.7,0.5 1.3,0.4 -0.8,0.4 0.1,0.7 1.0,0.7
-1.9,-0.2 -1.7,-0.5 -1.6,-0.1 -1.4,-0.7 -1.3,-0.3 -1.1,-0.6 -1.0,-0.1 -0.8,-0.4 -0.7,-0.8 -0.5,-0.2 -0.4,-0.6 -0.2,-0.3 -0.1,-0.8 0.1,-0.1 0.2,-0.5 0.4,-0.2 0.5,-0.7 0.7,-0.3 0.8,-0.6 1.0,-0.1 1.1,-0.5 1.3,-0.8 1.4,-0.3 1.6,-0.6 1.7,-0.1 1.9,-0.4 2.0,-0.7 -0.6,-0.4 0.3,-0.4 1.2,-0.2 -1.2,-0.4 0.0,-0.4 0.9,-0.4
-1.7,-1.0 -1.5,-1.3 -1.4,-0.9 -1.2,-1.2 -1.1,-1.5 -0.9,-1.0 -0.8,-1.3 -0.6,-0.9 -0.5,-1.4 -0.3,-1.1 -0.2,-1.6 0.0,-1.0 0.1,-1.3 0.3,-0.9 0.4,-1.5 0.6,-1.1 0.7,-1.4 0.9,-0.9 1.0,-1.2 1.2,-1.6 1.3,-1.1 1.5,-1.4 1.6,-0.9 1.8,-1.2 -1.0,-1.2 -0.1,-1.3 0.8,-1.2 -0.4,-1.0 0.5,-0.9
-1.3,-1.8 -1.0,-2.0 -0.8,-1.7 -0.6,-2.1 -0.4,-1.8 -0.2,-2.0 0.0,-1.7 0.2,-2.2 0.3,-1.9 0.5,-1.7 0.6,-2.1 0.8,-1.8 1.0,-2.0 1.1,-1.7 1.3,-2.2 1.5,-1.8 1.7,-2.0 -0.9,-2.2 0.1,-2.4 0.9,-2.3 1.8,-1.7
-2.4,1.9 -2.3,1.1 -2.1,1.6 -2.1,0.9 -1.9,2.0 -1.8,0.9 -1.7,1.7 -1.6,1.5 -1.5,1.2 -2.6,2.2 -2.4,2.5 -2.0,1.9 1.5,1.9 1.7,2.2 1.8,1.7 1.9,2.0 2.0,1.5 2.1,1.0 1.3,1.6 1.6,2.5 2.3,2.4 2.4,1.2
-1.4,0.5 -1.0,0.2 -0.6,0.5 -0.2,0.0 0.2,0.3 0.6,0.1 1.0,0.4 1.4,0.3 1.8,0.5 -1.5,-0.4 -1.1,-0.3 -0.7,-0.5 -0.3,-0.6 0.1,-0.3 0.4,-0.5 0.8,-0.2 1.2,-0.5 1.6,-0.3 1.9,-0.1 -1.4,-1.1 -1.0,-0.8 -0.6,-1.2 -0.2,-0.9 0.2,-1.1 0.6,-0.8 1.0,-0.8 1.4,-1.0 1.7,-0.7 -1.2,-1.6 -0.7,-1.7 -0.3,-1.4 0.1,-1.8 0.5,-1.3 0.9,-1.6 1.3,-1.5 1.6,-1.6 -0.5,-2.3 0.4,-2.1 1.2,-2.0 -1.2,0.9 -0.8,1.1 -0.4,1.1 0.0,0.8 0.4,1.0 0.8,0.7 1.2,1.1 1.6,1.1 -1.8,0.2 -1.6,0.8 2.1,0.2 2.0,-0.3 -0.9,-0.1 -0.5,0.2 0.5,-0.1 1.3,0.0 -0.1,-1.1 0.7,-1.1 -0.8,-0.9 -0.3,0.5 0.7,0.9 0.0,-0.6 1.8,0.9 -2.0,0.8
-1.3,0.7 -0.9,0.6 -0.5,0.8 -0.1,0.4 0.3,0.6 0.7,0.3 1.1,0.5 1.5,0.7 -1.6,0.0 -1.2,-0.2 -0.8,0.0 -0.4,-0.2 0.0,0.0 0.4,0.3 0.8,-0.4 1.2,-0.3 1.6,0.1 -1.3,-0.6 -0.9,-0.5 -0.5,-0.8 -0.1,-0.5 0.3,-0.7 0.6,-0.5 1.0,-0.6 1.4,-0.7 1.8,-0.6 -1.6,-1.3 -1.2,-1.0 -0.7,-1.1 -0.3,-1.3 0.2,-1.5 0.6,-1.4 1.0,-1.4 1.5,-1.2 -1.0,-1.7 -0.4,-1.6 0.0,-2.0 0.4,-1.8 0.8,-2.0 1.2,-1.8 -0.2,-2.2 0.7,-2.2 -1.7,-0.6 -1.8,-0.3 2.1,-0.4 -2.1,0.5 -1.9,1.3 -2.2,1.2 -2.3,1.6 1.7,1.5 2.0,1.1 -0.6,-0.3 0.5,0.5 0.9,0.2 -0.2,0.7`

const ptsGISSG = `-2.4,-2.4 -2.2,-1.5 -2.1,-1.7 -2.0,-0.8 -1.9,0.1 -1.2,2.0 -1.7,-2.2 -1.6,-2.4 -1.7,-2.8 -1.4,-2.5 -1.2,-2.4 -1.0,-2.2 -0.5,-1.7 -0.3,-1.2 0.0,2.3 0.3,2.3 0.5,1.9 1.6,-2.7 1.6,0.1 1.8,-0.9 1.9,-1.4 -2.3,-1.6 -2.1,-1.0 -1.9,-1.3 -1.8,-0.5
-1.8,-0.9 -1.7,0.3 -1.7,-1.4 -1.6,-0.3 -1.6,0.7 -1.5,-1.0 -1.5,0.0 -1.4,0.8 -1.4,-0.5 -1.3,-1.3 -1.3,0.3 -1.2,1.1 -1.2,-0.2 -1.1,0.6 -1.1,-0.8 -1.0,1.3 -1.0,0.1 -0.9,-0.4 -0.9,0.9 -0.8,1.6 -0.8,0.4 -0.7,-0.2 -0.7,1.2 -0.6,0.7 -0.6,1.8 -0.5,0.2 -0.5,1.4 -0.4,0.9 -0.4,-0.3 -0.3,1.7 -0.3,0.5 -0.2,1.2 -0.2,0.0 -0.1,1.9 -0.1,0.7 0.0,1.4 0.0,0.3 0.1,2.1 0.1,1.0 0.2,0.4 0.2,1.6 0.3,0.8 0.3,-0.1 0.4,1.3 0.4,0.5 0.5,1.7 0.5,0.9 0.6,0.2 0.6,1.4 0.7,0.7 0.7,-0.2 0.8,1.1 0.8,0.3 0.9,0.8 0.9,-0.4 1.0,0.5 1.0,1.2 1.1,0.0 1.1,0.7 1.2,-0.3 1.2,0.4 1.3,-0.6 1.3,0.9 1.4,0.1 1.4,-1.1 1.5,-0.4 1.5,-1.5 1.5,0.4 1.6,-0.9 1.6,-1.9 1.7,-0.4 1.7,-1.3 1.7,-2.2 1.8,-1.0 1.8,-1.7 1.8,-2.3 1.6,-2.2 1.7,-1.9 1.5,-2.0 1.6,-1.6 1.4,-1.7 1.7,-1.6 1.8,-2.0
-0.9,1.5 -0.5,0.8 -0.2,0.6 0.1,0.6 0.4,1.0 0.7,1.3 -1.3,0.7 -1.0,0.6 -0.7,0.3 0.0,1.0 0.3,1.2 0.6,0.9 1.0,0.9 1.2,0.8 -0.4,0.4 0.2,0.9 0.8,0.6 -0.6,1.1 -0.3,1.2 0.5,0.4 1.1,0.4 -1.5,0.4 -1.1,-0.3 -0.8,-0.2 -1.4,-0.2 -1.6,-1.1 -1.3,-0.9 -0.9,0.2 1.3,-0.2 1.4,-0.6 1.2,0.1 0.9,0.2 0.6,-0.3 0.3,0.3 1.6,-0.6 1.8,-1.4
-1.1,0.2 -1.0,0.9 -0.9,0.5 -0.8,0.0 -0.8,1.2 -0.7,0.8 -0.6,0.4 -0.5,1.1 -0.4,0.1 -0.4,1.6 -0.3,0.8 -0.2,1.5 -0.2,0.3 -0.1,1.1 0.0,0.6 0.0,1.7 0.1,1.4 0.1,0.2 0.2,1.2 0.3,0.5 0.3,1.5 0.4,0.8 0.5,1.2 0.5,0.0 0.6,0.6 0.7,1.0 0.8,0.0 0.9,0.5 1.0,0.8 1.1,0.3 1.2,-0.1 1.3,0.4 1.4,-0.3 1.5,-0.7 1.5,-0.1 1.6,-1.2 1.7,-0.8 1.6,-2.0 1.5,-1.8 1.7,-2.1 1.8,-1.6 -1.2,0.4 -1.4,0.3 -1.5,-0.5 -1.6,-0.7 -1.3,-0.4`

const ptsMIROCES = `-2.8,2.9 -2.3,4.0 -2.7,2.7 -2.6,2.3 -2.4,1.9 -2.5,1.5 -2.1,1.8 -2.2,2.4 -2.3,3.2 -2.1,1.2 -1.9,0.1 -1.7,-0.3 -1.4,-0.9 -1.6,0.9 -1.0,0.2 -0.4,-1.7 0.6,-2.0 0.0,0.6 0.3,0.8 0.9,2.4 1.2,2.8 1.5,2.6 1.8,1.6 1.6,0.8 1.0,-0.7 1.1,-0.6 -2.7,2.5 -2.6,2.8 -2.5,2.2 -2.4,2.6 -2.4,2.1 -2.3,1.7 -2.2,1.4 -2.0,1.3 -2.0,0.9 -1.9,1.0 -1.8,0.7 -1.8,0.4 -1.7,0.5 -1.6,0.2 -1.6,-0.1 -1.5,0.3 -1.5,-0.2 -1.4,0.0 -1.3,-0.4 -1.3,0.1 -1.2,-0.6 -1.2,-0.2 -1.1,-0.8 -1.1,-0.4 -1.0,-0.9 -1.0,-0.6 -0.9,-1.1 -0.9,-0.5 -0.8,-1.2 -0.8,-0.8 -0.8,-0.4 -0.7,-1.0 -0.7,-0.6 -0.6,-1.3 -0.6,-0.9 -0.6,-0.5 -0.5,-1.1 -0.5,-0.7 -0.4,-1.4 -0.4,-0.9 -0.4,-0.5 -0.3,-1.2 -0.3,-0.7 -0.2,-1.0 -0.2,-0.4 -0.1,-1.3 -0.1,-0.8 0.0,-1.1 0.0,-0.5 0.1,-0.9 0.1,-0.2 0.2,-1.2 0.2,-0.6 0.3,-0.8 0.3,-0.1 0.4,-1.0 0.4,-0.4 0.5,-0.6 0.5,0.2 0.6,-0.9 0.6,-0.2 0.7,-0.5 0.7,0.3 0.8,-0.3 0.8,0.5 0.9,-0.1 0.9,0.8 1.0,0.2 1.0,1.1 1.1,0.5 1.1,1.4 1.2,0.3 1.2,1.0 1.3,0.7 1.3,1.6 1.4,1.1 1.4,1.9 1.5,0.9 1.5,1.4 1.6,1.8 1.6,2.2 1.7,1.5 1.7,2.5 1.8,2.0 1.4,0.6 1.2,1.8 0.9,1.3 0.6,0.6 0.3,0.4 1.6,1.2 1.7,1.0 -0.9,-0.8 -0.5,-1.4 0.2,-1.5 -0.7,-1.4 1.3,1.3 1.0,0.9 1.5,2.1 -2.9,3.0 -2.6,2.6 0.5,-1.1 0.8,-0.8`

const ptsCMCC = `-3.0,3.8 -2.6,2.8 -2.8,1.6 -2.4,1.5 -2.0,1.6 -2.3,2.1 -2.3,1.9 -2.4,0.9 -2.1,1.3 -1.7,1.1 -2.0,0.3 -1.6,0.1 -1.6,-1.0 -1.1,-1.4 -0.7,-2.0 0.5,-1.9 0.0,-1.5 1.5,3.4 1.7,3.1 1.0,2.3 2.2,2.0 2.1,1.2 1.7,0.1 1.4,-1.0 1.0,-1.5 -1.9,0.5 -1.8,0.2 -1.5,0.4 -1.4,0.1 -1.3,-0.3 -1.4,-0.6 -1.2,0.3 -1.2,-0.2 -1.1,-0.7 -1.1,0.0 -1.0,-0.4 -1.0,-1.0 -0.9,0.1 -0.9,-0.6 -0.8,-1.2 -0.8,-0.3 -0.7,0.2 -0.7,-0.8 -0.6,-0.4 -0.6,-1.0 -0.5,0.0 -0.5,-0.6 -0.4,-1.3 -0.4,-0.3 -0.3,0.3 -0.3,-0.8 -0.2,-0.5 -0.2,-1.1 -0.1,0.0 -0.1,-0.7 0.0,0.5 0.0,-0.3 0.1,-1.0 0.1,-0.5 0.2,0.1 0.2,-0.8 0.3,-0.3 0.3,0.6 0.4,-0.6 0.4,0.0 0.5,-1.2 0.5,0.4 0.6,-0.4 0.6,0.9 0.7,-0.8 0.7,0.2 0.8,1.4 0.8,-0.2 0.9,0.5 0.9,-1.0 1.0,1.1 1.0,-0.3 1.1,0.3 1.1,1.6 1.2,-0.6 1.2,0.8 1.3,1.3 1.3,0.0 1.4,1.6 1.4,2.1 1.5,0.5 1.5,1.2 1.6,1.8 1.6,0.9 1.7,0.6 1.8,1.5 1.9,0.8 2.0,1.3 1.2,2.3 1.3,1.9 1.5,2.4 1.6,1.5 1.1,-0.5 0.6,-1.5 -0.3,-1.6 -0.6,-1.4 -1.0,0.6 0.0,-1.2 0.8,0.9 0.3,-1.3 -0.8,0.3 1.8,0.4 2.2,1.9 1.9,1.0`

const ptsMIROC6 = `-3.4,-2.7 -3.4,-2.6 -3.2,-1.9 -3.1,-2.7 -2.9,-2.0 -2.8,-2.1 -2.7,-1.5 -2.5,-1.3 -2.5,-0.5 -2.5,0.3 -2.2,0.4 -2.1,-1.5 -3.1,-3.6 -3.0,-2.3 -3.3,-2.4 -2.9,-1.7 -2.6,-1.4 -2.4,-0.9 -2.3,-0.7 -2.2,-0.2 -2.1,-0.4 -2.0,0.0 -2.0,-0.2 -1.9,0.1 -1.8,-0.3 -1.7,0.2 -1.8,-0.1 -1.6,0.3 -1.6,-0.4 -1.5,0.5 -1.5,-0.1
-2.0,1.9 -1.5,2.0 -1.5,1.9 -0.8,2.2 -0.2,2.3 0.8,1.8 1.5,0.7 1.8,-0.3 2.0,-1.1 1.8,-2.3 2.0,-2.4 1.1,-2.6 1.3,-3.1 0.2,-2.2 0.4,-2.0 0.7,-2.2 -0.8,-0.9 -1.1,-0.6 1.7,-0.6 1.6,-1.6 1.5,-2.1 1.2,-2.0 0.9,-2.0 1.9,-1.8
-1.4,0.6 -1.3,1.3 -1.3,0.0 -1.2,0.9 -1.2,0.3 -1.1,1.5 -1.1,0.6 -1.0,0.1 -1.0,1.1 -0.9,0.5 -0.9,1.7 -0.8,0.9 -0.8,0.2 -0.7,1.3 -0.7,0.6 -0.7,-0.2 -0.6,1.0 -0.6,0.3 -0.6,1.8 -0.5,0.7 -0.5,-0.1 -0.4,1.4 -0.4,0.4 -0.4,-0.6 -0.3,1.0 -0.3,0.1 -0.2,1.7 -0.2,0.7 -0.2,-0.3 -0.1,1.2 -0.1,0.4 -0.1,-0.8 0.0,0.9 0.0,0.0 0.0,1.6 0.1,0.5 0.1,-0.5 0.1,1.2 0.2,0.2 0.2,0.9 0.2,-1.0 0.3,1.5 0.3,0.6 0.3,-0.3 0.4,1.0 0.4,-0.7 0.4,0.2 0.5,1.3 0.5,0.5 0.5,-0.4 0.6,0.9 0.6,-1.1 0.6,0.0 0.7,1.4 0.7,0.4 0.7,-0.6 0.8,0.8 0.8,-0.2 0.8,-1.3 0.9,0.4 0.9,1.1 0.9,-0.7 1.0,0.0 1.0,0.7 1.0,-1.2 1.1,0.3 1.1,-0.4 1.1,-1.6 1.2,0.6 1.2,-0.8 1.2,0.0 1.3,-0.3 1.3,-1.2 1.3,0.4 1.4,-0.6 1.4,-1.5 1.4,0.1 1.5,-0.9 1.5,-0.2 1.6,-1.2 1.6,-0.5 1.7,-0.9 1.8,-1.3
-0.5,1.1 -0.3,0.6 -0.1,0.8 0.1,0.8 0.3,0.9 0.5,0.8 0.7,0.9 0.0,0.4 0.2,0.5 0.4,0.6 0.6,0.4 -0.2,0.2 0.8,0.3 1.0,0.4 0.3,0.0 0.6,-0.2 0.9,-0.3 -0.4,0.8 0.1,1.5 0.5,1.6 -0.8,1.5 -1.0,0.6 1.2,-1.3 0.9,-1.5 0.5,-1.3 1.6,-1.8 1.7,-1.5 -0.1,-1.1 0.3,-1.4 0.7,-1.7 1.3,-0.9 0.2,1.3 -0.6,0.6 -0.3,1.4
-0.6,1.4 -0.5,0.9 -0.4,0.0 -0.3,1.2 -0.2,0.5 -0.1,1.0 0.0,0.2 0.0,1.3 0.1,0.7 0.2,-0.2 0.2,1.1 0.3,0.3 0.4,0.8 0.4,-0.4 0.5,1.1 0.5,0.2 0.6,0.6 0.6,-0.7 0.7,0.1 0.7,1.1 0.8,0.5 0.8,-0.5 0.9,0.0 0.9,0.7 1.0,-0.4 1.0,0.3 1.1,-0.9 1.1,0.1 1.2,-0.5 1.2,0.4 1.3,-0.6 1.3,0.1 1.4,-0.3 1.5,-0.5 -0.9,0.3 -1.1,0.9 -1.2,0.6 -0.8,1.3 -0.4,1.7 0.3,1.7 0.9,-1.0 0.4,-1.0 1.4,-1.1 -1.2,1.0 -1.4,0.9
-0.9,1.2 -0.6,0.9 -0.3,0.4 -0.2,1.2 0.0,0.6 0.1,1.0 0.2,0.0 0.3,1.2 0.4,0.5 0.5,-0.1 0.6,1.2 0.7,0.7 0.8,0.1 0.9,-0.4 1.0,0.5 1.1,-0.2 1.2,-0.3 1.3,-0.9 1.4,-0.1 1.5,-0.7 -1.3,0.4 -1.0,0.3 -0.7,1.0 0.3,-0.6 0.7,-0.9 1.1,-0.7 1.6,-0.9 -0.5,0.3 0.6,0.3 1.0,-0.8`

const ptsCESM2 = `-2.6,3.1 -2.5,3.5 -2.4,2.0 -2.4,1.1 -2.2,0.6 -1.9,0.0 -1.7,-0.6 -1.5,-1.2 -1.0,-2.1 -0.1,-2.5 0.3,-2.4 0.2,-2.1 -0.3,-2.1 0.3,1.6 -0.2,2.0 -1.0,2.3 -1.6,3.0 -1.9,3.7 1.6,1.7 1.8,-0.4 2.4,0.9 2.2,3.9 2.3,3.6 2.4,3.0 2.3,2.3 2.6,3.5 2.4,3.3 2.5,2.9 2.3,2.7 2.2,2.4 -2.3,2.5 -2.2,2.2 -2.2,1.7 -2.1,2.7 -2.1,1.4 -2.0,1.9 -2.0,1.1 -1.9,2.6 -1.9,1.5 -1.8,0.7 -1.8,2.2 -1.7,1.2 -1.7,1.8 -1.6,0.4 -1.6,2.5 -1.6,0.9 -1.5,1.4 -1.5,0.1 -1.4,2.0 -1.4,0.7 -1.4,-0.3 -1.3,1.2 -1.3,0.4 -1.2,1.7 -1.2,-0.1
-1.2,0.6 -1.1,-0.5 -1.1,0.2 -1.0,-0.9 -1.0,0.9 -1.0,-0.2 -0.9,0.4 -0.9,-1.3 -0.9,-0.6 -0.8,0.1 -0.8,-1.0 -0.8,1.2 -0.7,-0.3 -0.7,-1.6 -0.7,0.6 -0.6,-0.8 -0.6,0.0 -0.6,-1.3 -0.5,0.3 -0.5,-0.5 -0.5,-1.8 -0.4,-1.1 -0.4,0.7 -0.4,-0.2 -0.3,-0.7 -0.3,-1.5 -0.3,0.2 -0.2,-1.0 -0.2,-0.3 -0.2,0.5 -0.1,-1.3 -0.1,-0.6 -0.1,0.1 0.0,-1.7 0.0,-0.9 0.0,-0.2 0.1,0.4 0.1,-1.2 0.1,-0.5 0.2,-0.8 0.2,0.0 0.2,-1.5 0.3,-0.4 0.3,0.6 0.3,-1.1 0.4,-0.7 0.4,0.1 0.4,-1.4 0.5,-0.2 0.5,-1.0 0.5,0.8 0.6,-0.5 0.6,0.3 0.6,-1.3 0.7,-0.8 0.7,0.0 0.7,-1.6 0.8,0.5 0.8,-0.3 0.8,-1.1 0.9,0.1 0.9,-0.7 0.9,1.0 1.0,-0.4 1.0,0.4 1.0,-1.2 1.1,0.7 1.1,-0.1 1.1,-0.9 1.2,0.3 1.2,-0.5 1.2,1.2 1.3,0.0 1.3,0.8 1.3,-0.7
-0.6,-0.4 -0.2,-0.7 0.2,-0.3 0.6,-0.9 -0.4,-0.9 0.0,-0.5 0.4,-0.4 -0.8,-0.5 -0.1,-1.0 0.3,-0.8 0.8,-0.6 -0.5,-1.2 0.1,-0.9 -0.3,-0.1 0.5,-0.6 -0.9,-0.2 -0.6,0.4 0.7,-0.3 1.0,0.0 -0.2,-1.5 0.2,-1.8 0.6,-1.7 -0.8,-1.5 -0.4,-1.6 1.0,-1.4 1.2,-1.0
1.4,0.3 1.4,1.1 1.4,-0.2 1.5,0.6 1.5,1.5 1.5,-0.5 1.6,0.9 1.6,0.2 1.7,1.4 1.7,0.5 1.7,2.0 1.8,1.0 1.8,1.7 1.9,1.3 1.9,2.1 1.9,0.6 2.0,1.8 2.0,2.5 2.1,1.5 2.1,2.2 2.2,1.2 2.2,2.9 2.3,1.9 1.3,1.5 1.6,1.2 2.0,1.0 1.5,1.9 1.8,2.4
-1.1,0.0 -1.0,-0.6 -0.9,0.1 -0.8,-0.8 -0.8,-0.2 -0.7,0.3 -0.7,-1.1 -0.6,-0.6 -0.5,-0.1 -0.5,-1.4 -0.4,-0.6 -0.3,-1.2 -0.3,-0.4 -0.2,0.2 -0.2,-0.8 -0.1,-1.6 -0.1,-0.3 0.0,-1.1 0.0,0.2 0.1,-0.7 0.1,-1.4 0.2,-0.5 0.2,0.3 0.3,-1.3 0.3,-0.2 0.4,-0.9 0.4,0.3 0.5,-1.3 0.5,-0.4 0.6,0.0 0.6,-1.1 0.7,-0.5 0.7,0.4 0.8,-0.9 0.8,0.1 0.9,-0.4 0.9,-1.3 1.0,-0.7 1.0,0.6 1.1,0.2 1.1,-0.5 1.2,-0.2 1.2,0.6 -1.3,0.8 -1.5,0.5 -1.3,-0.6 -1.2,-0.3 -1.6,1.2 -1.8,1.2 -2.0,1.5 1.5,0.3 1.6,0.6 1.7,1.0 1.9,1.6 2.1,1.9
-1.0,0.3 -0.9,-0.4 -0.8,-1.3 -0.7,-0.6 -0.6,0.2 -0.6,-1.0 -0.5,-0.7 -0.4,-0.4 -0.4,-1.4 -0.3,0.0 -0.3,-1.0 -0.2,-0.5 -0.2,-1.3 -0.1,-0.9 0.0,-0.7 0.0,-1.3 0.1,-0.2 0.1,-1.0 0.2,-0.6 0.2,-1.2 0.3,-0.6 0.3,0.1 0.4,-1.1 0.4,-0.2 0.5,-0.8 0.6,-0.7 0.6,-0.2 0.7,-1.2 0.8,-0.4 0.9,-1.0 0.9,-0.1 1.0,-0.9 1.1,0.4 1.2,-0.8 1.3,0.3 -1.4,0.3 -1.5,0.9 -1.7,1.5 1.6,1.5 1.8,1.3 2.0,2.0`

const scatter = [ptsIPSL, ptsCNRM6, ptsCanESM5, ptsCNRMESM, ptsACCESS, ptsMPI, ptsGISSH, ptsMRI,
  ptsUKESM, ptsGISSG, ptsMIROCES, ptsCMCC, ptsMIROC6, ptsCESM2]

const parsePts = (s) => s.trim().split(/\s+/).map((p) => p.split(',').map(Number))

// grid of small panels
const gridLeft = 56.7
const gridTop = 66.7
const colStep = 378
const rowStep = 370
const W = 297
const H = 237.6

const svg = d3.select('#chart')
svg.append('rect').attr('width', 1892).attr('height', 1093).attr('fill', '#fff')

const x = d3.scaleLinear().domain([-4, 4]).range([0, W])
const y = d3.scaleLinear().domain([-4, 4]).range([H, 0])

const line = d3.line()
  .x((d) => x(d[0]))
  .y((d) => y(d[1]))
  .curve(d3.curveNatural)

function styleAxis (g) {
  g.attr('font-size', null).attr('font-family', null)
  g.selectAll('path, line').attr('stroke', '#333').attr('stroke-width', 1.3)
  g.selectAll('text').style('font-size', '23px').attr('fill', '#111')
}

models.forEach((name, i) => {
  const g = svg.append('g')
    .attr('transform', `translate(${gridLeft + (i % 5) * colStep},${gridTop + Math.floor(i / 5) * rowStep})`)

  g.append('clipPath')
    .attr('id', `clip${i}`)
    .append('rect')
    .attr('width', W)
    .attr('height', H)

  const plot = g.append('g').attr('clip-path', `url(#clip${i})`)

  plot.selectAll('circle')
    .data(parsePts(scatter[i]))
    .enter()
    .append('circle')
    .attr('cx', (d) => x(d[0]))
    .attr('cy', (d) => y(d[1]))
    .attr('r', 3.4)
    .attr('fill', '#000')

  plot.append('path')
    .datum(parsePts(fitCurves[i]))
    .attr('d', line)
    .attr('fill', 'none')
    .attr('stroke', '#0000ff')
    .attr('stroke-width', 3.4)

  g.append('g')
    .call(d3.axisLeft(y).tickValues(ticks).tickSize(5).tickPadding(5).tickSizeOuter(0))
    .call(styleAxis)

  g.append('g')
    .attr('transform', `translate(0,${H})`)
    .call(d3.axisBottom(x).tickValues(ticks).tickSize(5).tickPadding(5).tickSizeOuter(0))
    .call(styleAxis)

  g.append('text')
    .attr('x', W / 2)
    .attr('y', -25)
    .attr('text-anchor', 'middle')
    .style('font-size', '30.5px')
    .attr('fill', '#111')
    .text(name)

  g.append('text')
    .attr('x', 11.5)
    .attr('y', 23.3)
    .style('font-size', '29px')
    .attr('fill', '#0000ff')
    .text(`α = ${alphas[i]}`)

  g.append('text')
    .attr('x', 11.5)
    .attr('y', H - 15)
    .style('font-size', '27px')
    .attr('fill', '#111')
    .text(`years = ${years[i]}`)
})
</script>
</body>
</html>
